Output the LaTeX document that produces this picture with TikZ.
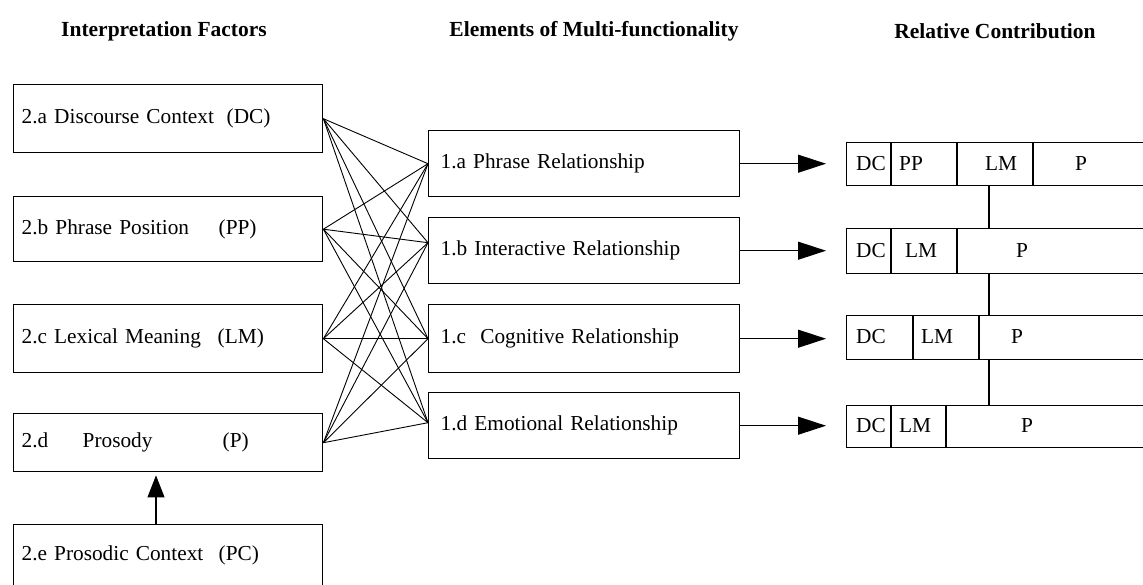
\documentclass[tikz,border=0pt]{standalone}
\usepackage{fontspec}
\setmainfont{Liberation Serif}
\usetikzlibrary{arrows.meta}
\begin{document}
\begin{tikzpicture}[x=1pt,y=-1pt,
  txt/.style={font=\fontsize{21.3}{25}\selectfont},
  hdr/.style={font=\fontsize{21.5}{24}\selectfont\bfseries, inner sep=0pt},
  lbox/.style={draw, line width=1.4pt, rectangle, anchor=north west, inner xsep=8pt, inner ysep=0pt,
    text width=293pt, align=left, txt},
  mbox/.style={draw, line width=1.4pt, rectangle, anchor=north west, inner xsep=12pt, inner ysep=0pt,
    text width=287pt, align=left, txt},
  bar/.style={draw, line width=1.4pt, rectangle, anchor=north west, minimum width=400pt, inner sep=0pt},
  cell/.style={txt, inner sep=0pt},
  link/.style={line width=0.9pt},
  arr/.style={line width=1.1pt, -{Triangle[length=28pt,width=18pt]}},
  uparr/.style={line width=1.1pt, -{Triangle[length=22pt,width=17pt]}, shorten >=3pt},
  sep/.style={line width=1.4pt}
]
\useasboundingbox (0,0) rectangle (1143,584);
\clip (0,0) rectangle (1143,584);

% headers
\node[hdr] (h1) at (164,31) {Interpretation Factors};
\node[hdr] (h2) at (594,31) {Elements of Multi-functionality};
\node[hdr] (h3) at (995,31) {Relative Contribution};

% left boxes
\node[lbox, minimum height=68pt] (la) at (13,84) {\makebox[205pt][l]{2.a Discourse Context}(DC)};
\node[lbox, minimum height=65pt] (lb) at (13,196) {\makebox[197pt][l]{2.b Phrase Position}(PP)};
\node[lbox, minimum height=68pt] (lc) at (13,304) {\makebox[196pt][l]{2.c Lexical Meaning}(LM)};
\node[lbox, minimum height=58pt] (ld) at (13,413) {\makebox[61pt][l]{2.d}\makebox[140pt][l]{Prosody}(P)};
\node[lbox, minimum height=62pt] (le) at (13,524) {\makebox[197pt][l]{2.e Prosodic Context}(PC)};

% middle boxes
\node[mbox, minimum height=66pt] (ma) at (428,130) {1.a Phrase Relationship};
\node[mbox, minimum height=66pt] (mb) at (428,217) {1.b Interactive Relationship};
\node[mbox, minimum height=68pt] (mc) at (428,304) {1.c\ \ Cognitive Relationship};
\node[mbox, minimum height=66pt] (md) at (428,392) {1.d Emotional Relationship};

% connection points on middle boxes
\coordinate (pa) at (ma.west);
\coordinate (pb) at ([yshift=8pt]mb.west);
\coordinate (pc) at (mc.west);
\coordinate (pd) at ([yshift=3pt]md.west);

\foreach \s in {la,lb,lc,ld}{
  \foreach \t in {pa,pb,pc,pd}{
    \draw[link] (\s.east) -- (\t);
  }
}

% prosodic context arrow
\coordinate (ax) at (156,0);
\draw[uparr] (le.north -| ax) -- (ld.south -| ax);

% bars
\node[bar, minimum height=43pt] (r1) at (846,142) {};
\node[bar, minimum height=45pt] (r2) at (846,228) {};
\node[bar, minimum height=44pt] (r3) at (846,315) {};
\node[bar, minimum height=42pt] (r4) at (846,405) {};

% arrows to bars
\coordinate (tx) at (826,0);
\draw[arr] (ma.east) -- (ma.east -| tx);
\draw[arr] (mb.east) -- (mb.east -| tx);
\draw[arr] (mc.east) -- (mc.east -| tx);
\draw[arr] (md.east) -- (md.east -| tx);

% dividers
\draw[sep] (891,0 |- r1.north) -- (891,0 |- r1.south);
\draw[sep] (957,0 |- r1.north) -- (957,0 |- r1.south);
\draw[sep] (1033,0 |- r1.north) -- (1033,0 |- r1.south);
\draw[sep] (891,0 |- r2.north) -- (891,0 |- r2.south);
\draw[sep] (957,0 |- r2.north) -- (957,0 |- r2.south);
\draw[sep] (913,0 |- r3.north) -- (913,0 |- r3.south);
\draw[sep] (979,0 |- r3.north) -- (979,0 |- r3.south);
\draw[sep] (891,0 |- r4.north) -- (891,0 |- r4.south);
\draw[sep] (946,0 |- r4.north) -- (946,0 |- r4.south);

% vertical links between bars
\coordinate (vx) at (989,0);
\draw[sep] (r1.south -| vx) -- (r2.north -| vx);
\draw[sep] (r2.south -| vx) -- (r3.north -| vx);
\draw[sep] (r3.south -| vx) -- (r4.north -| vx);

% bar texts
\node[cell] (c1a) at (871,163.5) {DC};
\node[cell] (c1b) at (911,163.5) {PP};
\node[cell] (c1c) at (1001,163.5) {LM};
\node[cell] (c1d) at (1081,163.5) {P};
\node[cell] (c2a) at (871,250.5) {DC};
\node[cell] (c2b) at (921,250.5) {LM};
\node[cell] (c2c) at (1022,250.5) {P};
\node[cell] (c3a) at (871,337) {DC};
\node[cell] (c3b) at (937,337) {LM};
\node[cell] (c3c) at (1017,337) {P};
\node[cell] (c4a) at (871,426) {DC};
\node[cell] (c4b) at (915,426) {LM};
\node[cell] (c4c) at (1027,426) {P};
\end{tikzpicture}
\end{document}
